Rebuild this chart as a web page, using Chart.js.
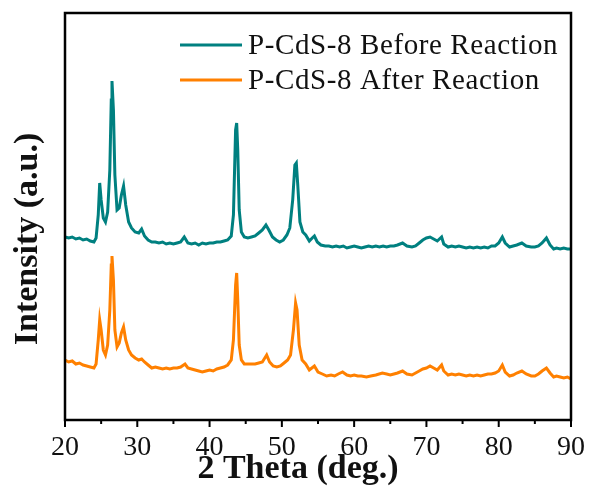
<!DOCTYPE html>
<html>
<head>
<meta charset="utf-8">
<script src="https://cdn.jsdelivr.net/npm/chart.js@4.4.0/dist/chart.umd.min.js"></script>
<style>
  html, body { margin: 0; padding: 0; background: #fff; }
</style>
</head>
<body>
<canvas id="xrd" width="590" height="495"></canvas>
<script>
// XRD patterns, 2-theta in degrees, intensity in arbitrary units
const thetaBefore = [20, 20.5, 21, 21.5, 22, 22.5, 23, 23.5, 24, 24.3, 24.6, 24.8, 25, 25.3, 25.6, 25.9, 26.2, 26.4, 26.5, 26.7, 26.9, 27.2, 27.5, 27.8, 28.1, 28.4, 28.8, 29.2, 29.7, 30.2, 30.6, 31, 31.5, 32, 32.5, 33, 33.5, 34, 34.5, 35, 35.5, 36, 36.5, 37, 37.5, 38, 38.5, 39, 39.5, 40, 40.5, 41, 41.5, 42, 42.5, 43, 43.3, 43.6, 43.75, 43.9, 44.1, 44.4, 44.8, 45.3, 45.8, 46.3, 46.8, 47.3, 47.8, 48.2, 48.7, 49.2, 49.7, 50.2, 50.7, 51.1, 51.5, 51.8, 52, 52.2, 52.5, 52.9, 53.3, 53.8, 54.2, 54.5, 54.9, 55.4, 56, 56.5, 57, 57.5, 58, 58.5, 59, 59.5, 60, 60.5, 61, 61.5, 62, 62.5, 63, 63.5, 64, 64.5, 65, 65.5, 66, 66.7, 67.3, 68, 68.5, 69, 69.5, 70, 70.5, 71, 71.5, 72.1, 72.4, 73, 73.5, 74, 74.5, 75, 75.5, 76, 76.5, 77, 77.5, 78, 78.5, 79, 79.5, 80, 80.5, 80.9, 81.5, 82, 82.5, 83.2, 83.8, 84.5, 85, 85.5, 86, 86.6, 87.1, 87.6, 88, 88.5, 89, 89.5, 90];
const intensityBefore = [183, 182, 183, 181, 182, 180, 181, 179, 178, 182, 205, 237, 220, 202, 198, 208, 250, 320, 339, 310, 245, 210, 212, 225, 234, 215, 198, 192, 188, 187, 191, 184, 180, 178, 178, 177, 178, 176, 177, 176, 177, 178, 183, 177, 176, 177, 175, 177, 176, 177, 177, 178, 178, 179, 180, 184, 205, 290, 297, 270, 210, 188, 183, 182, 183, 184, 187, 190, 195, 190, 183, 180, 178, 180, 185, 192, 220, 255, 257, 235, 198, 188, 185, 179, 182, 184, 178, 175, 174, 174, 173, 174, 173, 174, 172, 173, 174, 173, 172, 173, 174, 173, 174, 173, 174, 173, 174, 174, 175, 177, 174, 173, 174, 177, 180, 182, 183, 181, 179, 183, 176, 173, 174, 173, 174, 173, 172, 173, 172, 173, 172, 173, 172, 174, 174, 177, 183, 177, 173, 174, 175, 177, 174, 173, 173, 174, 177, 182, 175, 171, 172, 171, 172, 171, 171];

const thetaAfter = [20, 20.5, 21, 21.5, 22, 22.5, 23, 23.5, 24, 24.3, 24.6, 24.8, 25, 25.3, 25.6, 25.9, 26.2, 26.4, 26.5, 26.7, 26.9, 27.2, 27.5, 27.8, 28.1, 28.4, 28.8, 29.2, 29.7, 30.2, 30.6, 31, 31.5, 32, 32.5, 33, 33.5, 34, 34.5, 35, 35.5, 36, 36.6, 37, 37.5, 38, 38.5, 39, 39.5, 40, 40.5, 41, 41.5, 42, 42.5, 43, 43.3, 43.6, 43.75, 43.9, 44.1, 44.4, 44.8, 45.3, 45.8, 46.3, 46.8, 47.3, 47.9, 48.3, 48.8, 49.3, 49.8, 50.3, 50.8, 51.2, 51.6, 51.9, 52.1, 52.4, 52.8, 53.3, 53.8, 54.5, 55, 55.6, 56.2, 56.8, 57.3, 57.8, 58.4, 59, 59.5, 60, 60.5, 61, 61.7, 62.3, 63, 63.9, 64.5, 65, 65.5, 66, 66.7, 67.3, 68, 68.5, 69, 69.5, 70, 70.5, 71, 71.5, 72.1, 72.4, 73, 73.5, 74, 74.5, 75, 75.5, 76, 76.5, 77, 77.5, 78, 78.5, 79, 79.5, 80, 80.5, 80.9, 81.5, 82, 82.5, 83.2, 83.8, 84.5, 85, 85.5, 86, 86.6, 87.1, 87.6, 88, 88.5, 89, 89.5, 90];
const intensityAfter = [60, 58, 59, 56, 57, 55, 54, 53, 52, 56, 80, 100, 90, 70, 65, 75, 110, 155, 164, 140, 90, 73, 77, 87, 93, 80, 70, 65, 62, 60, 61, 58, 55, 52, 53, 52, 51, 52, 51, 52, 52, 53, 56, 52, 51, 50, 49, 48, 49, 50, 49, 51, 52, 53, 55, 60, 80, 135, 147, 120, 75, 60, 56, 56, 56, 56, 57, 58, 65, 58, 54, 53, 54, 57, 60, 65, 90, 117, 110, 75, 60, 56, 50, 54, 48, 46, 44, 45, 44, 46, 48, 45, 44, 45, 44, 44, 43, 44, 45, 47, 46, 45, 46, 47, 49, 46, 45, 47, 49, 51, 52, 54, 52, 50, 55, 49, 45, 46, 45, 46, 45, 44, 45, 44, 45, 44, 45, 46, 46, 47, 49, 55, 48, 44, 45, 47, 49, 46, 44, 44, 46, 49, 52, 47, 43, 44, 43, 42, 43, 41];

const seriesLabels = ['P-CdS-8 Before Reaction', 'P-CdS-8 After Reaction'];
const seriesColors = ['#008080', '#ff8000'];
const xTickValues = [20, 30, 40, 50, 60, 70, 80, 90];
const xTitle = '2 Theta (deg.)';
const yTitle = 'Intensity (a.u.)';

const serif = "'Liberation Serif', 'Times New Roman', serif";

function toPoints(xs, ys) {
  return xs.map((x, i) => ({ x: x, y: ys[i] }));
}

// frame, outward ticks, axis titles and legend
const decorPlugin = {
  id: 'decor',
  afterDatasetsDraw(chart) {
    const ctx = chart.ctx;
    const a = chart.chartArea;
    const xs = chart.scales.x;
    ctx.save();
    ctx.strokeStyle = '#000';
    ctx.lineWidth = 2.5;
    ctx.strokeRect(a.left, a.top, a.right - a.left, a.bottom - a.top);

    ctx.lineWidth = 2;
    for (let v = xs.min; v <= xs.max; v += 5) {
      const px = xs.getPixelForValue(v);
      const len = v % 10 === 0 ? 7 : 4;
      ctx.beginPath();
      ctx.moveTo(px, a.bottom);
      ctx.lineTo(px, a.bottom + len);
      ctx.stroke();
    }

    ctx.fillStyle = '#111';
    ctx.font = 'bold 34px ' + serif;
    ctx.textAlign = 'center';
    ctx.textBaseline = 'alphabetic';
    ctx.fillText(xTitle, 298, 478);

    ctx.save();
    ctx.translate(37, 239);
    ctx.rotate(-Math.PI / 2);
    ctx.fillText(yTitle, 0, 0);
    ctx.restore();

    ctx.font = '29px ' + serif;
    ctx.letterSpacing = '0.6px';
    ctx.textAlign = 'left';
    ctx.textBaseline = 'middle';
    chart.data.datasets.forEach((ds, i) => {
      const y = 45 + i * 35;
      ctx.strokeStyle = ds.borderColor;
      ctx.lineWidth = 3;
      ctx.beginPath();
      ctx.moveTo(180, y);
      ctx.lineTo(242, y);
      ctx.stroke();
      ctx.fillText(ds.label, 248, y + 1);
    });
    ctx.restore();
  }
};

new Chart(document.getElementById('xrd'), {
  type: 'line',
  data: {
    datasets: [
      {
        label: seriesLabels[0],
        data: toPoints(thetaBefore, intensityBefore),
        borderColor: seriesColors[0],
        borderWidth: 3,
        pointRadius: 0,
        tension: 0
      },
      {
        label: seriesLabels[1],
        data: toPoints(thetaAfter, intensityAfter),
        borderColor: seriesColors[1],
        borderWidth: 3,
        pointRadius: 0,
        tension: 0
      }
    ]
  },
  options: {
    responsive: false,
    animation: false,
    layout: {
      autoPadding: false,
      padding: { left: 65, right: 19, top: 13, bottom: 0 }
    },
    plugins: {
      legend: { display: false },
      tooltip: { enabled: false }
    },
    scales: {
      x: {
        type: 'linear',
        min: 20,
        max: 90,
        afterBuildTicks: (scale) => {
          scale.ticks = xTickValues.map(v => ({ value: v }));
        },
        afterFit: (scale) => {
          // fixed band under the plot; end labels may hang into the margins
          scale.height = 75;
          scale.paddingLeft = 0;
          scale.paddingRight = 0;
        },
        grid: { display: false, drawTicks: false },
        border: { display: false },
        ticks: {
          maxRotation: 0,
          padding: 11,
          color: '#111',
          font: { family: serif, size: 28 }
        }
      },
      y: {
        display: false,
        min: 0,
        max: 407
      }
    }
  },
  plugins: [decorPlugin]
});
</script>
</body>
</html>
